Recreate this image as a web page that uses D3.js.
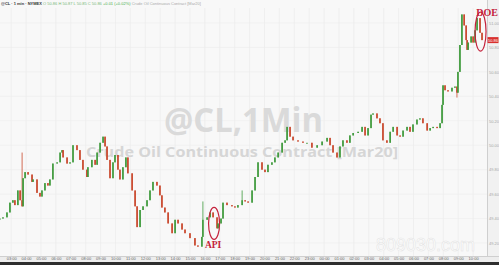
<!DOCTYPE html>
<html>
<head>
<meta charset="utf-8">
<script src="https://cdnjs.cloudflare.com/ajax/libs/d3/7.8.5/d3.min.js"></script>
<style>
  body { margin: 0; background: #f8f8f8; }
  svg { display: block; }
</style>
</head>
<body>
<div id="chart-area"></div>
<script>
// session start of the 1-min CL chart, offsets below are minutes from it
var startTime = new Date(2020, 1, 4, 2, 15);
var endMinute = 1961;

var mins = [0, 12, 28, 40, 52, 60, 72, 81, 89, 93, 101, 113, 129, 133, 149, 161, 169, 181, 193, 201,
  213, 230, 242, 250, 254, 270, 282, 294, 310, 322, 334, 350, 354, 370, 383, 391, 403, 415, 423, 431,
  443, 455, 463, 475, 483, 495, 507, 515, 532, 544, 552, 564, 576, 592, 604, 616, 632, 644, 652, 664,
  677, 693, 705, 717, 733, 745, 765, 785, 797, 813, 817, 834, 846, 858, 874, 878, 890, 898, 914, 934,
  946, 958, 975, 987, 999, 1015, 1027, 1039, 1055, 1067, 1079, 1095, 1107, 1120, 1136, 1148, 1156, 1168, 1180, 1200,
  1220, 1236, 1256, 1277, 1297, 1317, 1329, 1341, 1357, 1369, 1381, 1397, 1409, 1422, 1442, 1458, 1470, 1482, 1494, 1502,
  1518, 1530, 1542, 1558, 1571, 1583, 1599, 1611, 1623, 1639, 1651, 1663, 1679, 1691, 1703, 1720, 1732, 1744, 1760, 1772,
  1780, 1784, 1792, 1804, 1820, 1832, 1840, 1844, 1852, 1860, 1869, 1877, 1881, 1885, 1897, 1905, 1913, 1921, 1933, 1941];

var closes = [49.40, 49.41, 49.45, 49.53, 49.55, 49.51, 49.63, 49.55, 49.50, 49.73, 49.78, 49.76, 49.70, 49.72, 49.61, 49.58, 49.63, 49.69, 49.67, 49.72,
  49.85, 49.86, 49.94, 49.96, 49.90, 49.85, 49.86, 50.00, 49.96, 49.88, 49.80, 49.74, 49.82, 49.88, 49.84, 49.94, 50.02, 50.07, 49.99, 49.88,
  49.73, 49.86, 49.92, 49.80, 49.72, 49.82, 49.90, 49.77, 49.63, 49.50, 49.33, 49.47, 49.50, 49.55, 49.63, 49.70, 49.67, 49.59, 49.49, 49.45,
  49.36, 49.28, 49.39, 49.36, 49.31, 49.28, 49.24, 49.18, 49.17, 49.25, 49.39, 49.41, 49.45, 49.41, 49.32, 49.36, 49.40, 49.53, 49.51, 49.50,
  49.49, 49.51, 49.55, 49.54, 49.53, 49.63, 49.74, 49.86, 49.80, 49.78, 49.84, 49.86, 49.90, 49.94, 50.02, 50.04, 50.15, 50.07, 50.04, 50.03,
  50.02, 50.02, 49.98, 50.00, 50.03, 50.06, 50.00, 49.94, 49.90, 49.99, 50.04, 50.02, 50.08, 50.10, 50.11, 50.15, 50.08, 50.14, 50.25, 50.26,
  50.22, 50.18, 50.04, 50.02, 50.11, 50.15, 50.08, 50.07, 50.12, 50.15, 50.11, 50.17, 50.21, 50.22, 50.18, 50.12, 50.14, 50.15, 50.14, 50.18,
  50.33, 50.49, 50.45, 50.44, 50.47, 50.48, 50.43, 50.60, 50.82, 51.07, 50.98, 50.86, 50.78, 50.84, 50.89, 50.84, 50.94, 51.04, 50.92, 50.86];

// long wicks that stick out of the price line
var spikeMins = [89, 817, 975, 1840];
var spikeVals = [49.94, 49.54, 49.63, 50.39];

var priceTicks = [49.20, 49.40, 49.60, 49.80, 50.00, 50.20, 50.40, 50.60, 50.80, 51.00];

var eventNames = ["API", "DOE"];
var eventMins = [862, 1935];
var eventPrices = [49.36, 50.93];

var width = 499, height = 265;
var plotRight = 487, plotBottom = 256;

var svg = d3.select("#chart-area")
  .append("svg")
  .attr("width", width)
  .attr("height", height);

svg.append("rect").attr("width", width).attr("height", height).attr("fill", "#f8f8f8");

var toDate = (m) => d3.timeMinute.offset(startTime, m);

// SCALES
var x = d3.scaleTime()
  .domain([startTime, toDate(endMinute)])
  .range([0, plotRight]);

var y = d3.scaleLinear()
  .domain([49.20, 51.00])
  .range([243, 23]);

// grid
var hours = x.ticks(d3.timeHour.every(1));
svg.append("g").selectAll("line").data(hours).enter().append("line")
  .attr("x1", (d) => x(d)).attr("x2", (d) => x(d))
  .attr("y1", 8).attr("y2", plotBottom)
  .attr("stroke", "#e9e9e9").attr("stroke-width", 0.6);

svg.append("g").selectAll("line").data(priceTicks).enter().append("line")
  .attr("x1", 0).attr("x2", plotRight)
  .attr("y1", (d) => y(d)).attr("y2", (d) => y(d))
  .attr("stroke", "#ececec").attr("stroke-width", 0.6);

// watermark titles
svg.append("text")
  .attr("x", 164).attr("y", 132)
  .attr("font-family", "Open Sans, sans-serif")
  .attr("font-weight", "bold")
  .attr("font-size", "34px")
  .attr("textLength", 159).attr("lengthAdjust", "spacingAndGlyphs")
  .attr("fill", "#dadada")
  .text("@CL,1Min");

svg.append("text")
  .attr("x", 86).attr("y", 157)
  .attr("font-family", "Open Sans, sans-serif")
  .attr("font-weight", "bold")
  .attr("font-size", "14.5px")
  .attr("textLength", 312).attr("lengthAdjust", "spacingAndGlyphs")
  .attr("fill", "#d6d6d6")
  .text("Crude Oil Continuous Contract [Mar20]");

// candles
var candles = mins.map((m, i) => {
  var open = i > 0 ? closes[i - 1] : closes[i];
  var close = closes[i];
  var hi = Math.max(open, close), lo = Math.min(open, close);
  var k = spikeMins.indexOf(m);
  if (k >= 0) { hi = Math.max(hi, spikeVals[k]); lo = Math.min(lo, spikeVals[k]); }
  return { t: toDate(m), open: open, close: close, high: hi, low: lo };
});

var upColor = "#3f9a3c", downColor = "#c9472c";
var g = svg.append("g").attr("class", "candles");

g.selectAll("line").data(candles).enter().append("line")
  .attr("x1", (d) => x(d.t)).attr("x2", (d) => x(d.t))
  .attr("y1", (d) => y(d.high)).attr("y2", (d) => y(d.low))
  .attr("stroke", (d) => d.close >= d.open ? upColor : downColor)
  .attr("stroke-width", 0.8);

g.selectAll("rect").data(candles).enter().append("rect")
  .attr("x", (d) => x(d.t) - 0.8)
  .attr("y", (d) => y(Math.max(d.open, d.close)))
  .attr("width", 1.6)
  .attr("height", (d) => Math.max(1, Math.abs(y(d.open) - y(d.close))))
  .attr("fill", (d) => d.close >= d.open ? upColor : downColor);

// right axis
svg.append("rect").attr("x", plotRight).attr("y", 0)
  .attr("width", width - plotRight).attr("height", plotBottom).attr("fill", "#f1f1f1");
svg.append("line").attr("x1", plotRight + 0.5).attr("x2", plotRight + 0.5)
  .attr("y1", 0).attr("y2", plotBottom).attr("stroke", "#cfcfcf");

var rightAxis = d3.axisRight(y).tickValues(priceTicks).tickSize(0).tickPadding(2)
  .tickFormat(d3.format(".2f"));
svg.append("g")
  .attr("transform", "translate(" + plotRight + ",0)")
  .call(rightAxis)
  .call((a) => a.select(".domain").remove())
  .selectAll("text")
  .attr("font-size", "4px")
  .attr("font-family", "Liberation Sans, sans-serif")
  .attr("fill", "#a8a8a8");

// last price tag
var last = closes[closes.length - 1];
svg.append("rect").attr("x", plotRight + 0.5).attr("y", y(last) - 3)
  .attr("width", 11).attr("height", 6).attr("fill", "#d8302e");
svg.append("text").attr("x", plotRight + 6).attr("y", y(last) + 1.4)
  .attr("text-anchor", "middle").attr("font-size", "4px")
  .attr("font-family", "Liberation Sans, sans-serif").attr("fill", "#fff")
  .text(d3.format(".2f")(last));

// bottom axis
svg.append("rect").attr("x", 0).attr("y", plotBottom)
  .attr("width", width).attr("height", 6).attr("fill", "#ededed");
svg.append("line").attr("x1", 0).attr("x2", width)
  .attr("y1", plotBottom + 0.5).attr("y2", plotBottom + 0.5).attr("stroke", "#cfcfcf");
svg.append("rect").attr("x", 0).attr("y", 262)
  .attr("width", width).attr("height", 3).attr("fill", "#2e2e2e");

var bottomAxis = d3.axisBottom(x).ticks(d3.timeHour.every(1)).tickSize(0).tickPadding(1)
  .tickFormat(d3.timeFormat("%H:%M"));
svg.append("g")
  .attr("transform", "translate(0," + plotBottom + ")")
  .call(bottomAxis)
  .call((a) => a.select(".domain").remove())
  .selectAll("text")
  .attr("font-size", "4px")
  .attr("font-family", "Liberation Sans, sans-serif")
  .attr("fill", "#666");

// header line
var header = svg.append("text").attr("x", 1).attr("y", 4.5)
  .attr("font-size", "4px").attr("font-family", "Liberation Sans, sans-serif");
header.append("tspan").attr("fill", "#333").attr("font-weight", "bold").text("@CL · 1 min · NYMEX  ");
header.append("tspan").attr("fill", "#7ab87a").text("O 50.86  H 50.87  L 50.85  C 50.86  ");
header.append("tspan").attr("fill", "#4caf50").text("+0.01 (+0.02%)  ");
header.append("tspan").attr("fill", "#aaa").text("Crude Oil Continuous Contract [Mar20]");

// API / DOE annotations
var red = "#c4213b";
eventNames.forEach((name, i) => {
  var cx = x(toDate(eventMins[i])), cy = y(eventPrices[i]);
  var ry = name === "API" ? 16 : 19.5;
  svg.append("ellipse")
    .attr("cx", cx).attr("cy", cy)
    .attr("rx", 5.5).attr("ry", ry)
    .attr("fill", "none").attr("stroke", red).attr("stroke-width", 1.2);
  svg.append("text")
    .attr("x", name === "API" ? cx - 1 : 498)
    .attr("y", name === "API" ? cy + ry + 9 : cy - ry + 4)
    .attr("text-anchor", name === "API" ? "middle" : "end")
    .attr("font-family", "Liberation Serif, serif")
    .attr("font-weight", "bold")
    .attr("font-size", name === "API" ? "9.5px" : "10px")
    .attr("fill", red)
    .text(name);
});

// site watermark
svg.append("text")
  .attr("x", 376).attr("y", 251)
  .attr("font-family", "Liberation Sans, sans-serif")
  .attr("font-size", "18px")
  .attr("fill", "#ffffff")
  .attr("stroke", "#e2e2e2").attr("stroke-width", 0.5)
  .text("809030.com");
</script>
</body>
</html>
